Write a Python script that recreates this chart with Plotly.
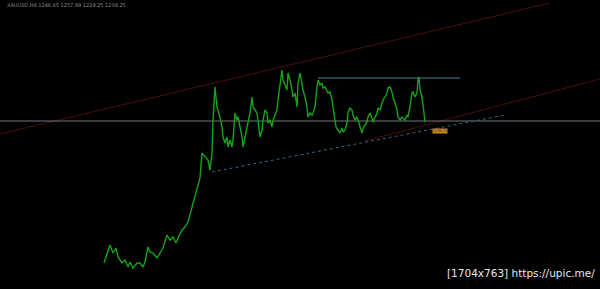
import plotly.graph_objects as go

# ---- data (x = bar position, y = price level in chart units) ----
price_x = [104, 107, 110, 113, 116, 118, 122, 125, 128, 130, 133, 137, 140, 143, 145, 148, 150,
           153, 157, 160, 163, 167, 170, 173, 176, 178, 182, 185, 188, 191, 194, 197, 200, 202,
           205, 208, 210, 212, 213, 215, 217, 218, 220, 222, 223, 225, 227, 228, 230, 232, 233,
           235, 237, 238, 240, 242, 243, 245, 247, 248, 250, 252, 253, 255, 257, 260, 262, 263,
           265, 267, 268, 270, 272, 273, 277, 278, 280, 282, 283, 285, 287, 288, 290, 292, 293,
           295, 297, 298, 300, 303, 305, 307, 308, 310, 312, 313, 315, 317, 318, 320, 322, 323,
           325, 328, 330, 332, 333, 335, 336, 338, 340, 342, 343, 345, 347, 348, 350, 352, 353,
           355, 357, 358, 360, 362, 363, 365, 367, 368, 370, 372, 373, 377, 378, 380, 382, 383,
           385, 387, 388, 390, 392, 393, 395, 397, 398, 400, 402, 403, 405, 407, 408, 410, 412,
           413, 415, 417, 418, 419, 420, 422, 423, 424, 425]
price_y = [26, 34, 44, 36, 41, 32, 26, 29, 22, 27, 21, 26, 26, 22, 27, 42, 37,
           36, 31, 36, 41, 54, 49, 52, 46, 51, 59, 62, 67, 78, 90, 102, 111, 136,
           132, 129, 119, 136, 169, 202, 182, 179, 172, 162, 152, 146, 152, 142, 149, 142, 149,
           176, 169, 172, 162, 152, 142, 152, 159, 166, 176, 192, 182, 179, 176, 152, 159, 169,
           179, 176, 166, 169, 162, 169, 179, 189, 206, 219, 209, 204, 199, 216, 209, 199, 192,
           196, 182, 206, 216, 199, 192, 182, 172, 176, 174, 176, 182, 202, 209, 204, 206, 201,
           202, 196, 197, 189, 182, 172, 162, 159, 156, 161, 157, 159, 166, 176, 181, 179, 174,
           169, 172, 169, 162, 156, 161, 164, 167, 172, 176, 171, 167, 176, 181, 179, 186, 189,
           192, 196, 201, 202, 197, 192, 186, 179, 172, 169, 172, 171, 169, 174, 172, 182, 196,
           197, 192, 196, 209, 212, 199, 192, 186, 176, 167]

# trend / level lines: [x0, x1], [y0, y1]
upper_red_x = [0, 550]
upper_red_y = [155, 286]
lower_red_x = [365, 600]
lower_red_y = [148, 210]
support_x = [212, 505]
support_y = [117, 174]
resist_x = [318, 460]
resist_y = [211, 211]
level_x = [0, 600]
level_y = [168, 168]

header_text = "XAUUSD,H4 1246.45 1257.89 1229.25 1239.25"
tag_text = "1239.25"
tag_pos = (439.5, 158.5)
watermark_text = "[1704x763] https://upic.me/"

fig = go.Figure()

fig.add_trace(go.Scatter(x=upper_red_x, y=upper_red_y, mode="lines",
                         line=dict(color="#4a0f0f", width=1), hoverinfo="skip"))
fig.add_trace(go.Scatter(x=lower_red_x, y=lower_red_y, mode="lines",
                         line=dict(color="#4a0f0f", width=1), hoverinfo="skip"))
fig.add_trace(go.Scatter(x=level_x, y=level_y, mode="lines",
                         line=dict(color="#6f7878", width=1), hoverinfo="skip"))
fig.add_trace(go.Scatter(x=support_x, y=support_y, mode="lines",
                         line=dict(color="#3d6680", width=1, dash="dot"), hoverinfo="skip"))
fig.add_trace(go.Scatter(x=resist_x, y=resist_y, mode="lines",
                         line=dict(color="#4a7f95", width=1), hoverinfo="skip"))
fig.add_trace(go.Scatter(x=price_x, y=price_y, mode="lines",
                         line=dict(color="#16a316", width=1.4), hoverinfo="skip"))

fig.add_annotation(x=5, y=284, xref="x", yref="y", text=header_text, showarrow=False,
                   xanchor="left", yanchor="middle",
                   font=dict(family="DejaVu Sans", size=5, color="#8a8a8a"))
fig.add_annotation(x=tag_pos[0], y=tag_pos[1], xref="x", yref="y", text=tag_text,
                   showarrow=False, xanchor="center", yanchor="middle",
                   bgcolor="#c98a28", borderpad=0,
                   font=dict(family="DejaVu Sans", size=3.5, color="#3a2a10"))
fig.add_annotation(x=597, y=16, xref="x", yref="y", text=watermark_text, showarrow=False,
                   xanchor="right", yanchor="middle",
                   font=dict(family="DejaVu Sans", size=10.5, color="#e8e8e8"))

fig.update_layout(
    width=600, height=289,
    margin=dict(l=0, r=0, t=0, b=0),
    paper_bgcolor="#000000", plot_bgcolor="#000000",
    showlegend=False,
    xaxis=dict(range=[0, 600], visible=False, fixedrange=True),
    yaxis=dict(range=[0, 289], visible=False, fixedrange=True),
)

fig.write_html("out.html")
